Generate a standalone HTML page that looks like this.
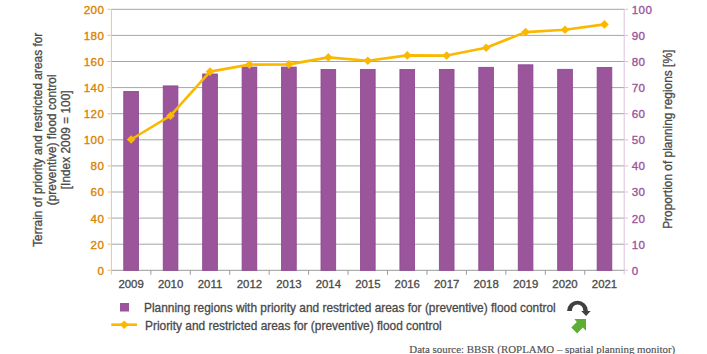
<!DOCTYPE html><html><head><meta charset="utf-8"><style>html,body{margin:0;padding:0;background:#fff;}svg{display:block;}text{font-family:"Liberation Sans",sans-serif;}</style></head><body>
<svg width="707" height="354" viewBox="0 0 707 354">
<line x1="111.4" y1="244.20" x2="624.2" y2="244.20" stroke="#a6a6a6" stroke-width="1"/>
<line x1="111.4" y1="218.10" x2="624.2" y2="218.10" stroke="#a6a6a6" stroke-width="1"/>
<line x1="111.4" y1="192.00" x2="624.2" y2="192.00" stroke="#a6a6a6" stroke-width="1"/>
<line x1="111.4" y1="165.90" x2="624.2" y2="165.90" stroke="#a6a6a6" stroke-width="1"/>
<line x1="111.4" y1="139.80" x2="624.2" y2="139.80" stroke="#a6a6a6" stroke-width="1"/>
<line x1="111.4" y1="113.70" x2="624.2" y2="113.70" stroke="#a6a6a6" stroke-width="1"/>
<line x1="111.4" y1="87.60" x2="624.2" y2="87.60" stroke="#a6a6a6" stroke-width="1"/>
<line x1="111.4" y1="61.50" x2="624.2" y2="61.50" stroke="#a6a6a6" stroke-width="1"/>
<line x1="111.4" y1="35.40" x2="624.2" y2="35.40" stroke="#a6a6a6" stroke-width="1"/>
<line x1="111.4" y1="9.30" x2="624.2" y2="9.30" stroke="#a6a6a6" stroke-width="1"/>
<line x1="111.4" y1="270.3" x2="624.2" y2="270.3" stroke="#9a9a9a" stroke-width="1"/>
<line x1="150.85" y1="270.3" x2="150.85" y2="274.8" stroke="#9a9a9a" stroke-width="1"/>
<line x1="190.29" y1="270.3" x2="190.29" y2="274.8" stroke="#9a9a9a" stroke-width="1"/>
<line x1="229.74" y1="270.3" x2="229.74" y2="274.8" stroke="#9a9a9a" stroke-width="1"/>
<line x1="269.18" y1="270.3" x2="269.18" y2="274.8" stroke="#9a9a9a" stroke-width="1"/>
<line x1="308.63" y1="270.3" x2="308.63" y2="274.8" stroke="#9a9a9a" stroke-width="1"/>
<line x1="348.08" y1="270.3" x2="348.08" y2="274.8" stroke="#9a9a9a" stroke-width="1"/>
<line x1="387.52" y1="270.3" x2="387.52" y2="274.8" stroke="#9a9a9a" stroke-width="1"/>
<line x1="426.97" y1="270.3" x2="426.97" y2="274.8" stroke="#9a9a9a" stroke-width="1"/>
<line x1="466.42" y1="270.3" x2="466.42" y2="274.8" stroke="#9a9a9a" stroke-width="1"/>
<line x1="505.86" y1="270.3" x2="505.86" y2="274.8" stroke="#9a9a9a" stroke-width="1"/>
<line x1="545.31" y1="270.3" x2="545.31" y2="274.8" stroke="#9a9a9a" stroke-width="1"/>
<line x1="584.75" y1="270.3" x2="584.75" y2="274.8" stroke="#9a9a9a" stroke-width="1"/>
<rect x="123.77" y="91.4" width="14.7" height="178.90" fill="#9b569b" stroke="#8c4390" stroke-width="0.8"/>
<rect x="163.22" y="85.9" width="14.7" height="184.40" fill="#9b569b" stroke="#8c4390" stroke-width="0.8"/>
<rect x="202.67" y="74.0" width="14.7" height="196.30" fill="#9b569b" stroke="#8c4390" stroke-width="0.8"/>
<rect x="242.11" y="67.10000000000001" width="14.7" height="203.20" fill="#9b569b" stroke="#8c4390" stroke-width="0.8"/>
<rect x="281.56" y="67.10000000000001" width="14.7" height="203.20" fill="#9b569b" stroke="#8c4390" stroke-width="0.8"/>
<rect x="321.00" y="69.5" width="14.7" height="200.80" fill="#9b569b" stroke="#8c4390" stroke-width="0.8"/>
<rect x="360.45" y="69.5" width="14.7" height="200.80" fill="#9b569b" stroke="#8c4390" stroke-width="0.8"/>
<rect x="399.90" y="69.5" width="14.7" height="200.80" fill="#9b569b" stroke="#8c4390" stroke-width="0.8"/>
<rect x="439.34" y="69.4" width="14.7" height="200.90" fill="#9b569b" stroke="#8c4390" stroke-width="0.8"/>
<rect x="478.79" y="67.30000000000001" width="14.7" height="203.00" fill="#9b569b" stroke="#8c4390" stroke-width="0.8"/>
<rect x="518.23" y="64.80000000000001" width="14.7" height="205.50" fill="#9b569b" stroke="#8c4390" stroke-width="0.8"/>
<rect x="557.68" y="69.30000000000001" width="14.7" height="201.00" fill="#9b569b" stroke="#8c4390" stroke-width="0.8"/>
<rect x="597.13" y="67.4" width="14.7" height="202.90" fill="#9b569b" stroke="#8c4390" stroke-width="0.8"/>
<line x1="111.4" y1="9.3" x2="111.4" y2="274.5" stroke="#f2c38a" stroke-width="1"/>
<line x1="107.4" y1="270.30" x2="111.4" y2="270.30" stroke="#f2c38a" stroke-width="1"/>
<text x="104.2" y="274.70" text-anchor="end" font-size="11.6" letter-spacing="0.35" stroke="#d98300" stroke-width="0.35" fill="#d98300">0</text>
<line x1="107.4" y1="244.20" x2="111.4" y2="244.20" stroke="#f2c38a" stroke-width="1"/>
<text x="104.2" y="248.60" text-anchor="end" font-size="11.6" letter-spacing="0.35" stroke="#d98300" stroke-width="0.35" fill="#d98300">20</text>
<line x1="107.4" y1="218.10" x2="111.4" y2="218.10" stroke="#f2c38a" stroke-width="1"/>
<text x="104.2" y="222.50" text-anchor="end" font-size="11.6" letter-spacing="0.35" stroke="#d98300" stroke-width="0.35" fill="#d98300">40</text>
<line x1="107.4" y1="192.00" x2="111.4" y2="192.00" stroke="#f2c38a" stroke-width="1"/>
<text x="104.2" y="196.40" text-anchor="end" font-size="11.6" letter-spacing="0.35" stroke="#d98300" stroke-width="0.35" fill="#d98300">60</text>
<line x1="107.4" y1="165.90" x2="111.4" y2="165.90" stroke="#f2c38a" stroke-width="1"/>
<text x="104.2" y="170.30" text-anchor="end" font-size="11.6" letter-spacing="0.35" stroke="#d98300" stroke-width="0.35" fill="#d98300">80</text>
<line x1="107.4" y1="139.80" x2="111.4" y2="139.80" stroke="#f2c38a" stroke-width="1"/>
<text x="104.2" y="144.20" text-anchor="end" font-size="11.6" letter-spacing="0.35" stroke="#d98300" stroke-width="0.35" fill="#d98300">100</text>
<line x1="107.4" y1="113.70" x2="111.4" y2="113.70" stroke="#f2c38a" stroke-width="1"/>
<text x="104.2" y="118.10" text-anchor="end" font-size="11.6" letter-spacing="0.35" stroke="#d98300" stroke-width="0.35" fill="#d98300">120</text>
<line x1="107.4" y1="87.60" x2="111.4" y2="87.60" stroke="#f2c38a" stroke-width="1"/>
<text x="104.2" y="92.00" text-anchor="end" font-size="11.6" letter-spacing="0.35" stroke="#d98300" stroke-width="0.35" fill="#d98300">140</text>
<line x1="107.4" y1="61.50" x2="111.4" y2="61.50" stroke="#f2c38a" stroke-width="1"/>
<text x="104.2" y="65.90" text-anchor="end" font-size="11.6" letter-spacing="0.35" stroke="#d98300" stroke-width="0.35" fill="#d98300">160</text>
<line x1="107.4" y1="35.40" x2="111.4" y2="35.40" stroke="#f2c38a" stroke-width="1"/>
<text x="104.2" y="39.80" text-anchor="end" font-size="11.6" letter-spacing="0.35" stroke="#d98300" stroke-width="0.35" fill="#d98300">180</text>
<line x1="107.4" y1="9.30" x2="111.4" y2="9.30" stroke="#f2c38a" stroke-width="1"/>
<text x="104.2" y="13.70" text-anchor="end" font-size="11.6" letter-spacing="0.35" stroke="#d98300" stroke-width="0.35" fill="#d98300">200</text>
<line x1="624.2" y1="9.3" x2="624.2" y2="274.5" stroke="#dcc3dc" stroke-width="1"/>
<line x1="624.2" y1="270.30" x2="628.2" y2="270.30" stroke="#dcc3dc" stroke-width="1"/>
<text x="631.8" y="274.70" font-size="11.6" letter-spacing="0.35" stroke="#9b569b" stroke-width="0.35" fill="#9b569b">0</text>
<line x1="624.2" y1="244.20" x2="628.2" y2="244.20" stroke="#dcc3dc" stroke-width="1"/>
<text x="631.8" y="248.60" font-size="11.6" letter-spacing="0.35" stroke="#9b569b" stroke-width="0.35" fill="#9b569b">10</text>
<line x1="624.2" y1="218.10" x2="628.2" y2="218.10" stroke="#dcc3dc" stroke-width="1"/>
<text x="631.8" y="222.50" font-size="11.6" letter-spacing="0.35" stroke="#9b569b" stroke-width="0.35" fill="#9b569b">20</text>
<line x1="624.2" y1="192.00" x2="628.2" y2="192.00" stroke="#dcc3dc" stroke-width="1"/>
<text x="631.8" y="196.40" font-size="11.6" letter-spacing="0.35" stroke="#9b569b" stroke-width="0.35" fill="#9b569b">30</text>
<line x1="624.2" y1="165.90" x2="628.2" y2="165.90" stroke="#dcc3dc" stroke-width="1"/>
<text x="631.8" y="170.30" font-size="11.6" letter-spacing="0.35" stroke="#9b569b" stroke-width="0.35" fill="#9b569b">40</text>
<line x1="624.2" y1="139.80" x2="628.2" y2="139.80" stroke="#dcc3dc" stroke-width="1"/>
<text x="631.8" y="144.20" font-size="11.6" letter-spacing="0.35" stroke="#9b569b" stroke-width="0.35" fill="#9b569b">50</text>
<line x1="624.2" y1="113.70" x2="628.2" y2="113.70" stroke="#dcc3dc" stroke-width="1"/>
<text x="631.8" y="118.10" font-size="11.6" letter-spacing="0.35" stroke="#9b569b" stroke-width="0.35" fill="#9b569b">60</text>
<line x1="624.2" y1="87.60" x2="628.2" y2="87.60" stroke="#dcc3dc" stroke-width="1"/>
<text x="631.8" y="92.00" font-size="11.6" letter-spacing="0.35" stroke="#9b569b" stroke-width="0.35" fill="#9b569b">70</text>
<line x1="624.2" y1="61.50" x2="628.2" y2="61.50" stroke="#dcc3dc" stroke-width="1"/>
<text x="631.8" y="65.90" font-size="11.6" letter-spacing="0.35" stroke="#9b569b" stroke-width="0.35" fill="#9b569b">80</text>
<line x1="624.2" y1="35.40" x2="628.2" y2="35.40" stroke="#dcc3dc" stroke-width="1"/>
<text x="631.8" y="39.80" font-size="11.6" letter-spacing="0.35" stroke="#9b569b" stroke-width="0.35" fill="#9b569b">90</text>
<line x1="624.2" y1="9.30" x2="628.2" y2="9.30" stroke="#dcc3dc" stroke-width="1"/>
<text x="631.8" y="13.70" font-size="11.6" letter-spacing="0.35" stroke="#9b569b" stroke-width="0.35" fill="#9b569b">100</text>
<text x="131.12" y="287.8" text-anchor="middle" font-size="11.4" fill="#4a4a4a" stroke="#4a4a4a" stroke-width="0.3">2009</text>
<text x="170.57" y="287.8" text-anchor="middle" font-size="11.4" fill="#4a4a4a" stroke="#4a4a4a" stroke-width="0.3">2010</text>
<text x="210.02" y="287.8" text-anchor="middle" font-size="11.4" fill="#4a4a4a" stroke="#4a4a4a" stroke-width="0.3">2011</text>
<text x="249.46" y="287.8" text-anchor="middle" font-size="11.4" fill="#4a4a4a" stroke="#4a4a4a" stroke-width="0.3">2012</text>
<text x="288.91" y="287.8" text-anchor="middle" font-size="11.4" fill="#4a4a4a" stroke="#4a4a4a" stroke-width="0.3">2013</text>
<text x="328.35" y="287.8" text-anchor="middle" font-size="11.4" fill="#4a4a4a" stroke="#4a4a4a" stroke-width="0.3">2014</text>
<text x="367.80" y="287.8" text-anchor="middle" font-size="11.4" fill="#4a4a4a" stroke="#4a4a4a" stroke-width="0.3">2015</text>
<text x="407.25" y="287.8" text-anchor="middle" font-size="11.4" fill="#4a4a4a" stroke="#4a4a4a" stroke-width="0.3">2016</text>
<text x="446.69" y="287.8" text-anchor="middle" font-size="11.4" fill="#4a4a4a" stroke="#4a4a4a" stroke-width="0.3">2017</text>
<text x="486.14" y="287.8" text-anchor="middle" font-size="11.4" fill="#4a4a4a" stroke="#4a4a4a" stroke-width="0.3">2018</text>
<text x="525.58" y="287.8" text-anchor="middle" font-size="11.4" fill="#4a4a4a" stroke="#4a4a4a" stroke-width="0.3">2019</text>
<text x="565.03" y="287.8" text-anchor="middle" font-size="11.4" fill="#4a4a4a" stroke="#4a4a4a" stroke-width="0.3">2020</text>
<text x="604.48" y="287.8" text-anchor="middle" font-size="11.4" fill="#4a4a4a" stroke="#4a4a4a" stroke-width="0.3">2021</text>
<polyline points="131.12,139.5 170.57,115.7 210.02,71.6 249.46,64.6 288.91,64.4 328.35,57.4 367.80,60.8 407.25,55.4 446.69,55.6 486.14,47.7 525.58,32.1 565.03,29.8 604.48,24.4" fill="none" stroke="#fab900" stroke-width="2.6" stroke-linejoin="round"/>
<path d="M131.12 135.20L135.42 139.5L131.12 143.80L126.82 139.5Z" fill="#fab900"/>
<path d="M170.57 111.40L174.87 115.7L170.57 120.00L166.27 115.7Z" fill="#fab900"/>
<path d="M210.02 67.30L214.32 71.6L210.02 75.90L205.72 71.6Z" fill="#fab900"/>
<path d="M249.46 60.30L253.76 64.6L249.46 68.90L245.16 64.6Z" fill="#fab900"/>
<path d="M288.91 60.10L293.21 64.4L288.91 68.70L284.61 64.4Z" fill="#fab900"/>
<path d="M328.35 53.10L332.65 57.4L328.35 61.70L324.05 57.4Z" fill="#fab900"/>
<path d="M367.80 56.50L372.10 60.8L367.80 65.10L363.50 60.8Z" fill="#fab900"/>
<path d="M407.25 51.10L411.55 55.4L407.25 59.70L402.95 55.4Z" fill="#fab900"/>
<path d="M446.69 51.30L450.99 55.6L446.69 59.90L442.39 55.6Z" fill="#fab900"/>
<path d="M486.14 43.40L490.44 47.7L486.14 52.00L481.84 47.7Z" fill="#fab900"/>
<path d="M525.58 27.80L529.88 32.1L525.58 36.40L521.28 32.1Z" fill="#fab900"/>
<path d="M565.03 25.50L569.33 29.8L565.03 34.10L560.73 29.8Z" fill="#fab900"/>
<path d="M604.48 20.10L608.78 24.4L604.48 28.70L600.18 24.4Z" fill="#fab900"/>
<g transform="translate(0,139.8) rotate(-90)" font-size="11.9" fill="#4a4a4a" stroke="#4a4a4a" stroke-width="0.3" text-anchor="middle">
<text x="0" y="41.6">Terrain of priority and restricted areas for</text>
<text x="0" y="55.8">(preventive) flood control</text>
<text x="0" y="70">[Index 2009 = 100]</text>
</g>
<text transform="translate(0,139.3) rotate(-90)" x="0" y="671.8" font-size="11.9" fill="#4a4a4a" stroke="#4a4a4a" stroke-width="0.3" text-anchor="middle">Proportion of planning regions [%]</text>
<rect x="120" y="303" width="9" height="8.5" fill="#9b569b"/>
<text x="144" y="311.9" font-size="11.9" fill="#4a4a4a" stroke="#4a4a4a" stroke-width="0.3">Planning regions with priority and restricted areas for (preventive) flood control</text>
<line x1="111.3" y1="324.7" x2="137" y2="324.7" stroke="#fab900" stroke-width="2.6"/>
<path d="M124.2 320.4L128.5 324.7L124.2 329L119.9 324.7Z" fill="#fab900"/>
<text x="145" y="329.9" font-size="11.9" fill="#4a4a4a" stroke="#4a4a4a" stroke-width="0.3">Priority and restricted areas for (preventive) flood control</text>
<path d="M567.1 311 A10.4 10.2 0 0 1 587.9 311 L590.7 311 L586.1 316 L581.2 311 L583.4 311 A5.8 6.6 0 0 0 571.8 311 Z" fill="#404040"/>
<path d="M574.4 318.9 L586 318.9 L586 330.7 L582.8 327.6 L577.2 333.6 L571.3 327.6 L576.8 322.1 Z" fill="#5ead35"/>
<text x="409.3" y="352.6" font-family="Liberation Serif" style="font-family:'Liberation Serif',serif" font-size="10.9" fill="#505050" stroke="#505050" stroke-width="0.15">Data source: BBSR (ROPLAMO – spatial planning monitor)</text>
</svg></body></html>
